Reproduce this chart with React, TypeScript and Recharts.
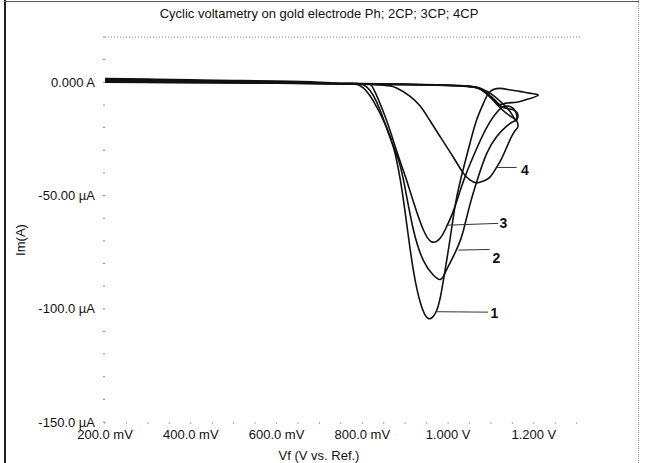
import { LineChart, Line, XAxis, YAxis, ReferenceLine, ReferenceDot } from 'recharts';

// potential in mV, current in µA, in scan order (forward then reverse)
const curve1: [number, number][] = [
  [200, 1.6], [300, 1.4], [400, 1.1], [500, 0.8], [600, 0.5], [700, 0], [760, -0.6],
  [795, -1.5], [825, -8], [857, -20], [876, -31], [892, -47], [906, -66], [920, -84],
  [935, -97], [953, -104.2], [973, -101], [985, -92], [993, -83], [1004, -70], [1016, -55],
  [1028, -44], [1040, -35], [1051, -27], [1066, -17], [1082, -9.5], [1097, -4.3],
  [1120, -2.7], [1145, -3.4], [1167, -4], [1190, -4.8], [1210, -5.7],
  [1185, -7.5], [1160, -8.8], [1136, -9.2], [1121, -9.8], [1110, -8], [1095, -5.5],
  [1075, -3], [1050, -1.8], [1000, -1.2], [900, -0.8], [800, -0.5], [600, 0], [400, 0.4], [200, 0.8],
];

const curve2: [number, number][] = [
  [200, 1.2], [400, 0.8], [600, 0.2], [750, -0.5], [810, -2], [841, -12], [864, -24],
  [884, -34], [899, -46], [919, -65], [942, -78.5], [965, -85], [983, -87], [996, -83],
  [1012, -77], [1024, -72], [1035, -66], [1051, -54], [1070, -42], [1090, -31.5],
  [1113, -24], [1136, -19.5], [1150, -17.5], [1160, -16.5],
  [1163, -14.5], [1158, -12.8], [1145, -11.8], [1125, -10.8], [1105, -7.5], [1085, -4],
  [1060, -2.2], [1000, -1.4], [900, -1], [700, -0.5], [500, -0.1], [200, 0.3],
];

const curve3: [number, number][] = [
  [200, 0.9], [400, 0.5], [600, 0], [780, -0.8], [825, -2.5], [853, -15], [872, -25.6],
  [892, -37], [903, -43], [923, -55], [942, -65], [961, -70.4], [981, -69], [996, -64],
  [1012, -57], [1028, -48], [1043, -40], [1065, -30], [1090, -20], [1115, -13],
  [1135, -10.5], [1152, -11.5], [1160, -14.5], [1158, -16.8],
  [1145, -13], [1125, -9], [1100, -5], [1080, -3], [1050, -1.8], [950, -1.1],
  [800, -0.7], [600, -0.3], [200, 0.1],
];

const curve4: [number, number][] = [
  [200, 0.6], [400, 0.2], [600, -0.2], [800, -0.8], [860, -1.5], [880, -2.5], [910, -6],
  [935, -10.5], [958, -17], [985, -25], [1012, -33], [1035, -40], [1050, -43],
  [1066, -44.4], [1082, -43.6], [1097, -42], [1113, -37.6], [1124, -34], [1136, -29],
  [1148, -24], [1158, -21], [1163, -19.5],
  [1160, -17], [1150, -15.5], [1135, -13.5], [1115, -10], [1095, -6], [1075, -3],
  [1050, -1.8], [950, -1.2], [800, -0.8], [600, -0.4], [400, -0.2], [200, 0],
];

const curves = [curve1, curve2, curve3, curve4];

// curve number callouts: leader line start, end, and label spot
const callouts = [
  { name: '1', from: [973, -101.3], to: [1093, -101.5], at: [1108, -102] },
  { name: '2', from: [1024, -74.1], to: [1097, -73.8], at: [1113, -77.8] },
  { name: '3', from: [996, -63.1], to: [1117, -62.3], at: [1129, -62.3] },
  { name: '4', from: [1113, -37.6], to: [1160, -37.6], at: [1179, -38.8] },
];

const xTicks = [200, 250, 300, 350, 400, 450, 500, 550, 600, 650, 700, 750, 800, 850, 900, 950, 1000, 1050, 1100, 1150, 1200, 1250, 1300];
const xTickLabels: Record<number, string> = {
  200: '200.0 mV', 400: '400.0 mV', 600: '600.0 mV', 800: '800.0 mV', 1000: '1.000 V', 1200: '1.200 V',
};
const yTicks = [-150, -140, -130, -120, -110, -100, -90, -80, -70, -60, -50, -40, -30, -20, -10, 0, 10, 20];
const yTickLabels: Record<number, string> = {
  0: '0.000 A', [-50]: '-50.00 µA', [-100]: '-100.0 µA', [-150]: '-150.0 µA',
};

const font = '"Liberation Sans", Arial, sans-serif';

export default function App() {
  return (
    <div
      style={{
        position: 'absolute', left: 0, top: 0, width: 645, height: 463,
        background: '#fff', fontFamily: font, overflow: 'hidden',
      }}
    >
      <div style={{ position: 'absolute', left: 4, top: 0, bottom: 0, width: 2, background: '#222' }} />
      <div style={{ position: 'absolute', left: 4, right: 6, top: 1, height: 1, background: '#555' }} />
      <div style={{ position: 'absolute', right: 6, top: 0, bottom: 0, borderRight: '1px dotted #999' }} />
      <div
        style={{
          position: 'absolute', left: 0, width: 638, top: 6, textAlign: 'center',
          fontSize: 13, color: '#111',
        }}
      >
        Cyclic voltametry on gold electrode Ph; 2CP; 3CP; 4CP
      </div>
      <div
        style={{
          position: 'absolute', left: 20, top: 240, fontSize: 13, color: '#111',
          transform: 'translate(-50%, -50%) rotate(-90deg)', whiteSpace: 'nowrap',
        }}
      >
        Im(A)
      </div>
      <div
        style={{
          position: 'absolute', left: 319, top: 455, fontSize: 13, color: '#111',
          transform: 'translate(-50%, -50%)', whiteSpace: 'nowrap',
        }}
      >
        Vf (V vs. Ref.)
      </div>
      <LineChart
        width={645}
        height={463}
        margin={{ top: 37, right: 64, bottom: 0, left: 0 }}
        style={{ position: 'absolute', left: 0, top: 0 }}
      >
        <XAxis
          type="number"
          dataKey="v"
          domain={[200, 1310]}
          allowDataOverflow
          ticks={xTicks}
          interval={0}
          height={41}
          axisLine={false}
          tickLine={{ stroke: '#aaa' }}
          tickSize={2}
          tickMargin={6}
          tickFormatter={(v: number) => xTickLabels[v] ?? ''}
          tick={{ fill: '#111', fontSize: 13, fontFamily: font }}
        />
        <YAxis
          type="number"
          dataKey="i"
          domain={[-150, 20]}
          allowDataOverflow
          ticks={yTicks}
          interval={0}
          width={105}
          axisLine={false}
          tickLine={{ stroke: '#888' }}
          tickSize={2}
          tickMargin={8}
          tickFormatter={(v: number) => yTickLabels[v] ?? ''}
          tick={{ fill: '#111', fontSize: 13, fontFamily: font }}
        />
        <ReferenceLine y={20} stroke="#777" strokeDasharray="1 2" />
        {curves.map((c, idx) => (
          <Line
            key={idx}
            data={c.map(([v, i]) => ({ v, i }))}
            dataKey="i"
            type="natural"
            stroke="#111"
            strokeWidth={1.6}
            dot={false}
            activeDot={false}
            isAnimationActive={false}
          />
        ))}
        {callouts.map((c) => (
          <ReferenceLine
            key={'l' + c.name}
            segment={[{ x: c.from[0], y: c.from[1] }, { x: c.to[0], y: c.to[1] }]}
            stroke="#333"
            strokeWidth={1}
          />
        ))}
        {callouts.map((c) => (
          <ReferenceDot
            key={'d' + c.name}
            x={c.at[0]}
            y={c.at[1]}
            r={1}
            fill="none"
            stroke="none"
            label={{ value: c.name, position: 'center', fill: '#111', fontSize: 14, fontWeight: 'bold', fontFamily: font }}
          />
        ))}
      </LineChart>
    </div>
  );
}
